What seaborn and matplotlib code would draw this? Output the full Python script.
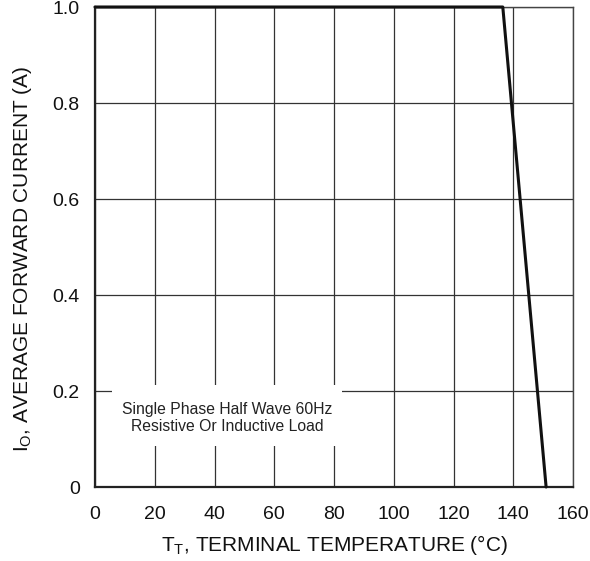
import matplotlib
matplotlib.use("Agg")
import matplotlib.pyplot as plt
from matplotlib.patches import Rectangle
import seaborn as sns
import pandas as pd

# Data
temperature = [0, 136.5, 151]
current = [1.0, 1.0, 0.0]
x_ticks = [0, 20, 40, 60, 80, 100, 120, 140, 160]
y_ticks = [0, 0.2, 0.4, 0.6, 0.8, 1.0]
y_tick_labels = ["0", "0.2", "0.4", "0.6", "0.8", "1.0"]
note = "Single Phase Half Wave 60Hz\nResistive Or Inductive Load"

sns.set_theme(style="white")
plt.rcParams['font.family'] = ['Liberation Sans', 'DejaVu Sans']
plt.rcParams['mathtext.fontset'] = 'custom'
plt.rcParams['mathtext.rm'] = 'Liberation Sans'
plt.rcParams['mathtext.it'] = 'Liberation Sans'

fig = plt.figure(figsize=(5.9, 5.61), dpi=100)
ax = fig.add_axes([95/590, 1-487/561, (573-95)/590, (487-7)/561])

df = pd.DataFrame({"T": temperature, "I": current})

ax.set_xlim(0, 160)
ax.set_ylim(0, 1.0)
ax.set_xticks(x_ticks)
ax.set_yticks(y_ticks)
ax.set_yticklabels(y_tick_labels)
ax.grid(True, color="#333333", linewidth=0.9)
ax.set_axisbelow(True)

sns.lineplot(data=df, x="T", y="I", ax=ax, color="#111111", linewidth=2.2,
             clip_on=False, zorder=5)

for s in ["left", "bottom"]:
    ax.spines[s].set_color("#222222")
    ax.spines[s].set_linewidth(1.6)
for s in ["top", "right"]:
    ax.spines[s].set_color("#444444")
    ax.spines[s].set_linewidth(1.0)

ax.tick_params(axis="both", length=0, labelsize=14, colors="#111111")
ax.tick_params(axis="x", pad=14)
ax.tick_params(axis="y", pad=11)

ax.set_xlabel("T$_\\mathrm{T}$, TERMINAL TEMPERATURE (°C)", fontsize=15,
              color="#111111", labelpad=7)
ax.set_ylabel("I$_\\mathrm{O}$, AVERAGE FORWARD CURRENT (A)", fontsize=15,
              color="#111111")
ax.yaxis.set_label_coords(-0.128, 0.475)

ax.add_patch(Rectangle((0.0356, 0.0854), 0.4814, 0.1271, transform=ax.transAxes,
                       facecolor="white", edgecolor="none", zorder=3))
ax.text(0.276, 0.143, note, transform=ax.transAxes, ha="center", va="center",
        fontsize=11.3, color="#222222", linespacing=1.15, zorder=4)

fig.savefig("out.png", dpi=100)
